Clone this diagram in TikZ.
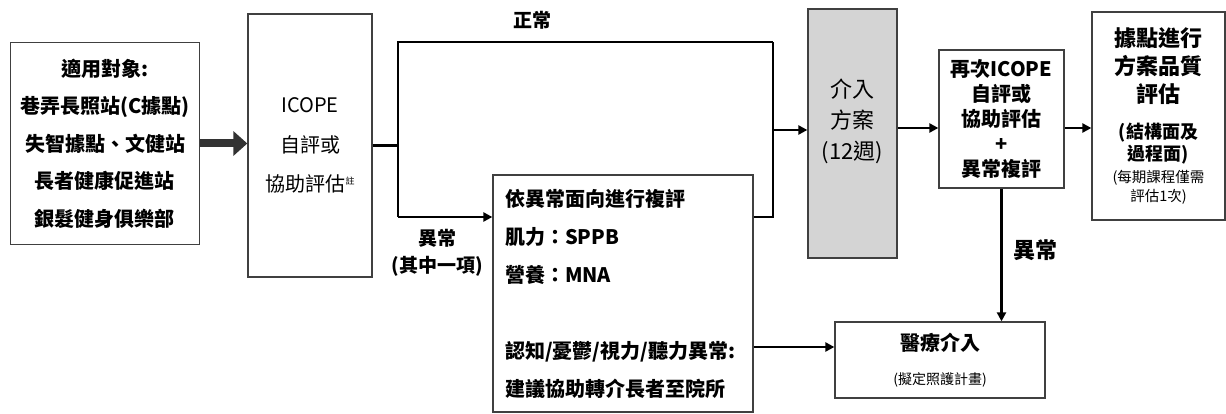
\documentclass[tikz,border=0pt]{standalone}
\usepackage{fontspec}
\setmainfont{Noto Sans CJK TC}
\usetikzlibrary{arrows.meta}
\tikzset{
  box/.style={draw=black!75,line width=1.3pt,fill=white,inner sep=0pt,align=center},
  link/.style={line width=2.6pt},
  flow/.style={line width=2.6pt,-{Triangle[length=9pt,width=9pt]}},
  fat/.style={line width=8pt,black!80,-{Triangle[length=14pt,width=24pt]}},
  lbl/.style={font=\bfseries\fontsize{19}{27}\selectfont,align=center}
}
\begin{document}
\begin{tikzpicture}[x=1pt,y=-1pt]
\useasboundingbox (0,0) rectangle (1226,414);
% boxes
\node[box,minimum width=189pt,minimum height=202pt,font=\bfseries\fontsize{20}{37.5}\selectfont] (target) at (105,143.5)
  {適用對象:\\巷弄長照站(C據點)\\失智據點、文健站\\長者健康促進站\\銀髮健身俱樂部};
\node[box,minimum width=124pt,minimum height=263pt,font=\fontsize{20}{39.5}\selectfont] (icope) at (310,145.5)
  {ICOPE\\自評或\\協助評估\raisebox{7pt}{\fontsize{9}{9}\selectfont 註}};
\node[box,minimum width=260pt,minimum height=237pt,text width=236pt,align=left,font=\bfseries\fontsize{20}{38}\selectfont] (check) at (623,293.5)
  {依異常面向進行複評\\肌力：SPPB\\營養：MNA\\[38pt]認知/憂鬱/視力/聽力異常:\\建議協助轉介長者至院所};
\node[box,fill=black!17,minimum width=89pt,minimum height=249pt,
  label={[font=\fontsize{22}{31}\selectfont,align=center,yshift=12.5pt]center:介入\\方案\\(12週)}] (plan) at (852.5,133.5) {};
\node[box,minimum width=125pt,minimum height=138pt,font=\bfseries\fontsize{20}{25}\selectfont] (again) at (1001.5,119)
  {再次ICOPE\\自評或\\協助評估\\+\\異常複評};
\node[box,minimum width=133pt,minimum height=208pt,font=\bfseries\fontsize{22}{28}\selectfont] (quality) at (1158.5,116)
  {據點進行\\方案品質\\評估\\[8pt]{\fontsize{18}{22}\selectfont(結構面及}\\[-6pt]{\fontsize{18}{22}\selectfont 過程面)}\\[-6pt]{\fontsize{14.5}{16}\mdseries\selectfont(每期課程僅需}\\[-9pt]{\fontsize{14.5}{16}\mdseries\selectfont 評估1次)}};
\node[box,minimum width=210pt,minimum height=76pt,font=\bfseries\fontsize{20}{34}\selectfont] (medical) at (940,360)
  {醫療介入\\{\fontsize{14}{16}\mdseries\selectfont(擬定照護計畫)}};
% labels
\node[lbl] (normal) at (532,20) {正常};
\node[lbl] (abn) at (437,253) {異常\\(其中一項)};
\node[lbl,font=\bfseries\fontsize{22}{27}\selectfont] (abn2) at (1035,250) {異常};
% junctions
\coordinate (nw) at (398,42);
\coordinate (ne) at (773,42);
\coordinate (low) at (398,217);
\coordinate (merge) at (773,217);
\coordinate (inlet) at (773,130);
\coordinate (mid) at (0,128);
\coordinate (refer) at (0,347);
% connectors
\draw[fat] (target.east) -- (target.east -| icope.west);
\draw[link] (icope.east) -- (icope.east -| nw);
\draw[link] (ne) -- (nw) -- (low);
\draw[flow] (low) -- (low -| check.west);
\draw[link] (check.east |- merge) -- (merge) -- (ne);
\draw[flow] (inlet) -- (inlet -| plan.west);
\draw[flow] (plan.east |- mid) -- (again.west |- mid);
\draw[flow] (again.east |- mid) -- (quality.west |- mid);
\draw[flow] (again.south) -- (again.south |- medical.north);
\draw[flow] (check.east |- refer) -- (medical.west |- refer);
\end{tikzpicture}
\end{document}
